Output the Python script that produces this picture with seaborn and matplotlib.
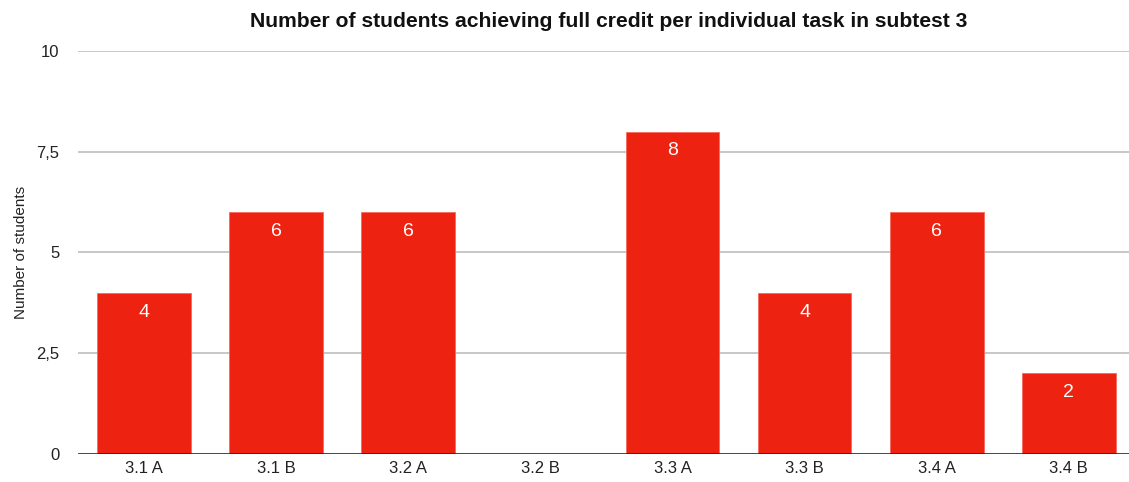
import matplotlib
matplotlib.use("Agg")
import matplotlib.pyplot as plt
import seaborn as sns
import pandas as pd
from matplotlib.ticker import FuncFormatter

categories = ["3.1 A", "3.1 B", "3.2 A", "3.2 B", "3.3 A", "3.3 B", "3.4 A", "3.4 B"]
values = [4, 6, 6, 0, 8, 4, 6, 2]
y_ticks = [0, 2.5, 5, 7.5, 10]

sns.set_theme(style="white")
plt.rcParams['font.family'] = ['Liberation Sans', 'DejaVu Sans']

df = pd.DataFrame({"task": categories, "students": values})

fig = plt.figure(figsize=(11.29, 4.82), dpi=100)
ax = fig.add_axes([78/1129, 1-454/482, 1-78/1129, (454-51)/482])

sns.barplot(data=df, x="task", y="students", color="#EE2211", saturation=1,
            width=0.71, ax=ax, edgecolor="#F46A5E", linewidth=0.6, zorder=3)

ax.set_ylim(0, 10)
ax.set_xlim(-0.5, 7.456)
ax.set_yticks(y_ticks)
ax.yaxis.set_major_formatter(FuncFormatter(lambda v, p: (f"{v:g}").replace(".", ",")))
ax.grid(axis="y", color="#BDBDBD", linewidth=1.2, zorder=0)
ax.axhline(0, color="#222222", linewidth=1.8, zorder=4)
for s in ax.spines.values():
    s.set_visible(False)
ax.tick_params(axis="both", length=0, labelsize=12, colors="#222222")
ax.tick_params(axis="y", pad=13.5)
ax.tick_params(axis="x", pad=5)
ax.set_xlabel("")
ax.set_ylabel("Number of students", fontsize=11, color="#222222", labelpad=6)

labels = [str(v) if v > 0 else "" for v in values]
ax.bar_label(ax.containers[0], labels=labels, padding=-20, color="white", fontsize=14)

fig.suptitle("Number of students achieving full credit per individual task in subtest 3",
             x=0.539, y=0.975, fontsize=15.2, fontweight="bold", color="#111111")

fig.savefig("out.png", dpi=100)
